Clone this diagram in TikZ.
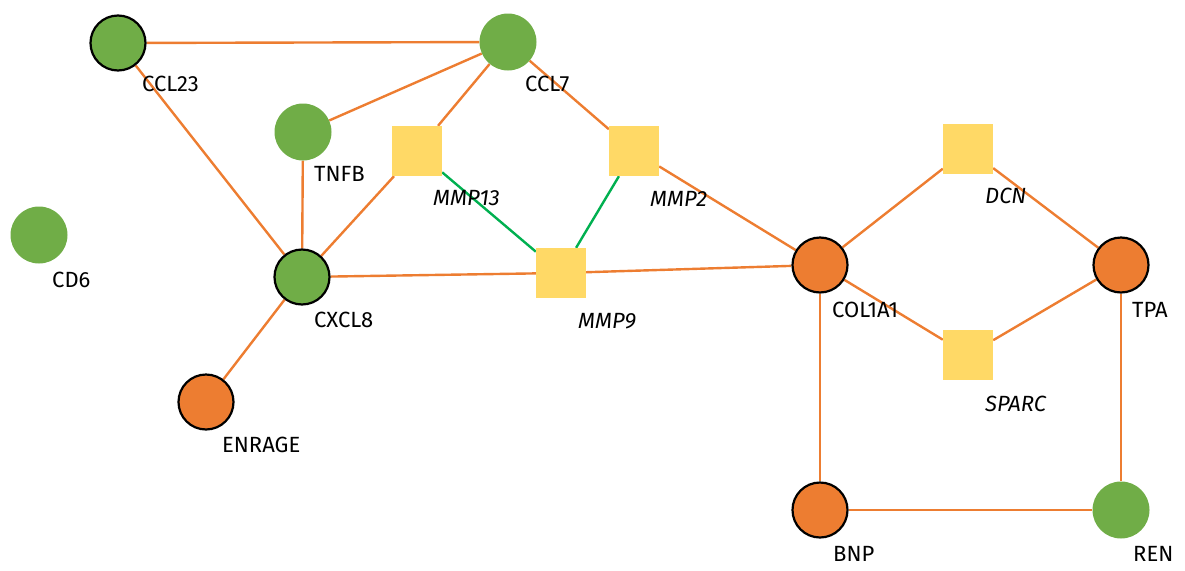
\documentclass[tikz,border=0pt]{standalone}
\usepackage{fontspec}
\setmainfont{Fira Sans}
\usetikzlibrary{backgrounds}
\definecolor{leafgreen}{HTML}{70AD47}
\definecolor{rust}{HTML}{ED7D31}
\definecolor{butter}{HTML}{FFD966}
\definecolor{linkgreen}{HTML}{00B050}

\begin{document}
\begin{tikzpicture}[x=1pt,y=-1pt,every node/.style={inner sep=0pt},
  gene/.style={circle,fill=leafgreen,minimum size=57pt},
  marked/.style={draw=black,line width=2.2pt,minimum size=55pt},
  hot/.style={gene,fill=rust},
  mmp/.style={rectangle,fill=butter,minimum size=50pt},
  tag/.style={anchor=west,font=\fontsize{22}{25}\selectfont},
  itag/.style={tag,font=\fontsize{22}{25}\selectfont\itshape},
  link/.style={rust,line width=2.4pt},
  glink/.style={linkgreen,line width=2.4pt}]
  \useasboundingbox (0,0) rectangle (1185,570);

  \node [gene,marked] (ccl23) at (118,43) {};
  \node [gene] (ccl7) at (508,42) {};
  \node [gene] (tnfb) at (303,132) {};
  \node [gene] (cd6) at (39,235) {};
  \node [gene,marked] (cxcl8) at (302,277) {};
  \node [hot,marked] (enrage) at (206,402) {};
  \node [mmp] (mmp13) at (417,151) {};
  \node [mmp] (mmp2) at (634,151) {};
  \node [mmp] (mmp9) at (561,273) {};
  \node [hot,marked] (col1a1) at (820,265) {};
  \node [mmp] (dcn) at (968,149) {};
  \node [hot,marked] (tpa) at (1121,265) {};
  \node [mmp] (sparc) at (968,355) {};
  \node [hot,marked] (bnp) at (820,510) {};
  \node [gene] (ren) at (1121,510) {};

  \node [tag] (ccl23-l) at (142,84) {CCL23};
  \node [tag] (ccl7-l) at (525,84) {CCL7};
  \node [tag] (tnfb-l) at (314,174) {TNFB};
  \node [tag] (cd6-l) at (52,280) {CD6};
  \node [tag] (cxcl8-l) at (314,320) {CXCL8};
  \node [tag] (enrage-l) at (222,445) {ENRAGE};
  \node [tag] (col1a1-l) at (832,310) {COL1A1};
  \node [tag] (tpa-l) at (1132,310) {TPA};
  \node [tag] (bnp-l) at (833,554) {BNP};
  \node [tag] (ren-l) at (1133,554) {REN};
  \node [itag] (mmp13-l) at (433,198) {MMP13};
  \node [itag] (mmp2-l) at (650,199) {MMP2};
  \node [itag] (mmp9-l) at (578,321) {MMP9};
  \node [itag] (dcn-l) at (985,196) {DCN};
  \node [itag] (sparc-l) at (985,404) {SPARC};

  \begin{scope}[on background layer]
    \draw [link] (ccl23) -- (ccl7);
    \draw [link] (ccl23) -- (cxcl8);
    \draw [link] (ccl7) -- (tnfb);
    \draw [link] (ccl7) -- (mmp13);
    \draw [link] (ccl7) -- (mmp2);
    \draw [link] (tnfb) -- (cxcl8);
    \draw [link] (mmp13) -- (cxcl8);
    \draw [link] (cxcl8) -- (mmp9);
    \draw [link] (mmp9) -- (col1a1);
    \draw [link] (cxcl8) -- (enrage);
    \draw [link] (mmp2) -- (col1a1);
    \draw [link] (col1a1) -- (dcn);
    \draw [link] (col1a1) -- (sparc);
    \draw [link] (col1a1) -- (bnp);
    \draw [link] (dcn) -- (tpa);
    \draw [link] (sparc) -- (tpa);
    \draw [link] (tpa) -- (ren);
    \draw [link] (bnp) -- (ren);
    \draw [glink] (mmp13) -- (mmp9);
    \draw [glink] (mmp2) -- (mmp9);
  \end{scope}
\end{tikzpicture}
\end{document}
